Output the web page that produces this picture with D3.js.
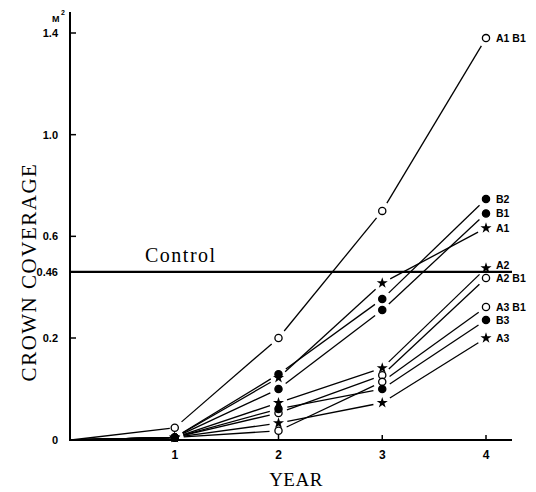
<!DOCTYPE html>
<html>
<head>
<meta charset="utf-8">
<script src="https://cdn.jsdelivr.net/npm/d3@7"></script>
<style>
  body { margin: 0; background: #fff; }
  svg { display: block; }
  .tick-label { font-family: Arial, "Liberation Sans", sans-serif; font-weight: bold; font-size: 11px; }
  .series-label { font-family: Arial, "Liberation Sans", sans-serif; font-weight: bold; font-size: 10.5px; }
  .title { font-family: "Liberation Serif", "DejaVu Serif", serif; }
</style>
</head>
<body>
<svg id="chart" width="536" height="492"></svg>
<script>
// crown coverage (m2) per year
const years = [0, 1, 2, 3, 4];
const yTicks = [0, 0.2, 0.46, 0.6, 1.0, 1.4];
const yTickLabels = ['0', '0.2', '0.46', '0.6', '1.0', '1.4'];
const xTicks = [1, 2, 3, 4];
const controlValue = 0.46;

const a1b1 = [0, 0.024, 0.2, 0.70, 1.38];
const b2 = [0, 0.005, 0.129, 0.353, 0.747];
const b1 = [0, 0.005, 0.10, 0.31, 0.69];
const a1 = [0, 0.005, 0.122, 0.416, 0.633];
const a2 = [0, 0.005, 0.073, 0.141, 0.475];
const a2b1 = [0, 0.005, 0.053, 0.127, 0.436];
const a3b1 = [0, 0.005, 0.018, 0.114, 0.322];
const b3 = [0, 0.005, 0.061, 0.10, 0.271];
const a3 = [0, 0.005, 0.033, 0.073, 0.20];

const seriesNames = ['A1 B1', 'B2', 'B1', 'A1', 'A2', 'A2 B1', 'A3 B1', 'B3', 'A3'];
const seriesMarks = ['open', 'dot', 'dot', 'star', 'star', 'open', 'open', 'dot', 'star'];
const seriesValues = [a1b1, b2, b1, a1, a2, a2b1, a3b1, b3, a3];

const series = seriesNames.map((name, i) => ({
  name,
  mark: seriesMarks[i],
  points: years.map((yr, j) => ({ year: yr, value: seriesValues[i][j] }))
}));

const svg = d3.select('#chart');

const x = d3.scaleLinear().domain([0, 4]).range([71, 486]);
// the original axis is stretched below 0.2
const y = d3.scaleLinear().domain([0, 0.2, 1.4]).range([440, 338, 33]);

// axes
svg.append('line')
  .attr('x1', 70).attr('x2', 70)
  .attr('y1', 12).attr('y2', 441)
  .attr('stroke', '#000').attr('stroke-width', 2);
svg.append('line')
  .attr('x1', 69).attr('x2', 512)
  .attr('y1', y(0)).attr('y2', y(0))
  .attr('stroke', '#000').attr('stroke-width', 2);

// y ticks
const yt = svg.append('g');
yt.selectAll('line').data(yTicks.filter((d) => d > 0 && d !== controlValue))
  .join('line')
  .attr('x1', 70).attr('x2', 76)
  .attr('y1', (d) => y(d)).attr('y2', (d) => y(d))
  .attr('stroke', '#000').attr('stroke-width', 1.5);
yt.selectAll('text').data(yTicks)
  .join('text')
  .attr('class', 'tick-label')
  .attr('x', 58)
  .attr('y', (d) => y(d) + 4)
  .attr('text-anchor', 'end')
  .text((d, i) => yTickLabels[i]);

svg.append('text')
  .attr('class', 'tick-label')
  .attr('x', 52).attr('y', 22)
  .style('font-size', '9px')
  .text('M');
svg.append('text')
  .attr('class', 'tick-label')
  .attr('x', 61).attr('y', 15)
  .style('font-size', '7px')
  .text('2');

// x ticks
const xt = svg.append('g');
xt.selectAll('line').data(xTicks)
  .join('line')
  .attr('x1', (d) => x(d)).attr('x2', (d) => x(d))
  .attr('y1', y(0)).attr('y2', y(0) - 5)
  .attr('stroke', '#000').attr('stroke-width', 1.5);
xt.selectAll('text').data(xTicks)
  .join('text')
  .attr('class', 'tick-label')
  .attr('x', (d) => x(d))
  .attr('y', 459)
  .attr('text-anchor', 'middle')
  .style('font-size', '12px')
  .text((d) => d);

// axis titles
svg.append('text')
  .attr('class', 'title')
  .attr('transform', `translate(36,272)rotate(-90)`)
  .attr('text-anchor', 'middle')
  .style('font-size', '21px')
  .style('letter-spacing', '1.5px')
  .text('CROWN COVERAGE');
svg.append('text')
  .attr('class', 'title')
  .attr('x', 296).attr('y', 486)
  .attr('text-anchor', 'middle')
  .style('font-size', '19px')
  .style('letter-spacing', '0.5px')
  .text('YEAR');

// control line
svg.append('line')
  .attr('x1', 70).attr('x2', 512)
  .attr('y1', y(controlValue)).attr('y2', y(controlValue))
  .attr('stroke', '#000').attr('stroke-width', 2.2);
svg.append('text')
  .attr('class', 'title')
  .attr('x', 145).attr('y', y(controlValue) - 10)
  .style('font-size', '20px')
  .style('letter-spacing', '1.5px')
  .text('Control');

// series segments, broken short of each marker like the original drawing
const gap = 9;
const segs = [];
series.forEach((s) => {
  for (let i = 1; i < s.points.length; i++) {
    const p0 = s.points[i - 1], p1 = s.points[i];
    const x0 = x(p0.year), y0 = y(p0.value), x1 = x(p1.year), y1 = y(p1.value);
    const len = Math.hypot(x1 - x0, y1 - y0);
    const ux = (x1 - x0) / len, uy = (y1 - y0) / len;
    const g0 = p0.year === 0 ? 0 : gap;
    const g1 = p1.year === 1 ? 5 : gap;
    segs.push({ x1: x0 + ux * g0, y1: y0 + uy * g0, x2: x1 - ux * g1, y2: y1 - uy * g1 });
  }
});
svg.append('g').selectAll('line').data(segs)
  .join('line')
  .attr('x1', (d) => d.x1).attr('y1', (d) => d.y1)
  .attr('x2', (d) => d.x2).attr('y2', (d) => d.y2)
  .attr('stroke', '#000').attr('stroke-width', 1.3);

// markers
const star = d3.symbol().type(d3.symbolStar).size(38);
const markers = svg.append('g');
series.forEach((s) => {
  const pts = s.points.filter((p) => p.year > 0);
  if (s.mark === 'star') {
    markers.selectAll(null).data(pts).join('path')
      .attr('transform', (p) => `translate(${x(p.year)},${y(p.value)})`)
      .attr('d', star)
      .attr('fill', '#000');
  } else {
    markers.selectAll(null).data(pts).join('circle')
      .attr('cx', (p) => x(p.year))
      .attr('cy', (p) => y(p.value))
      .attr('r', 3.6)
      .attr('fill', s.mark === 'dot' ? '#000' : '#fff')
      .attr('stroke', '#000')
      .attr('stroke-width', 1.3);
  }
});

// end labels
svg.append('g').selectAll('text').data(series)
  .join('text')
  .attr('class', 'series-label')
  .attr('x', x(4) + 10)
  .attr('y', (s) => y(s.points[4].value) + (s.name === 'A2' ? 1 : 4))
  .text((s) => s.name);
</script>
</body>
</html>
